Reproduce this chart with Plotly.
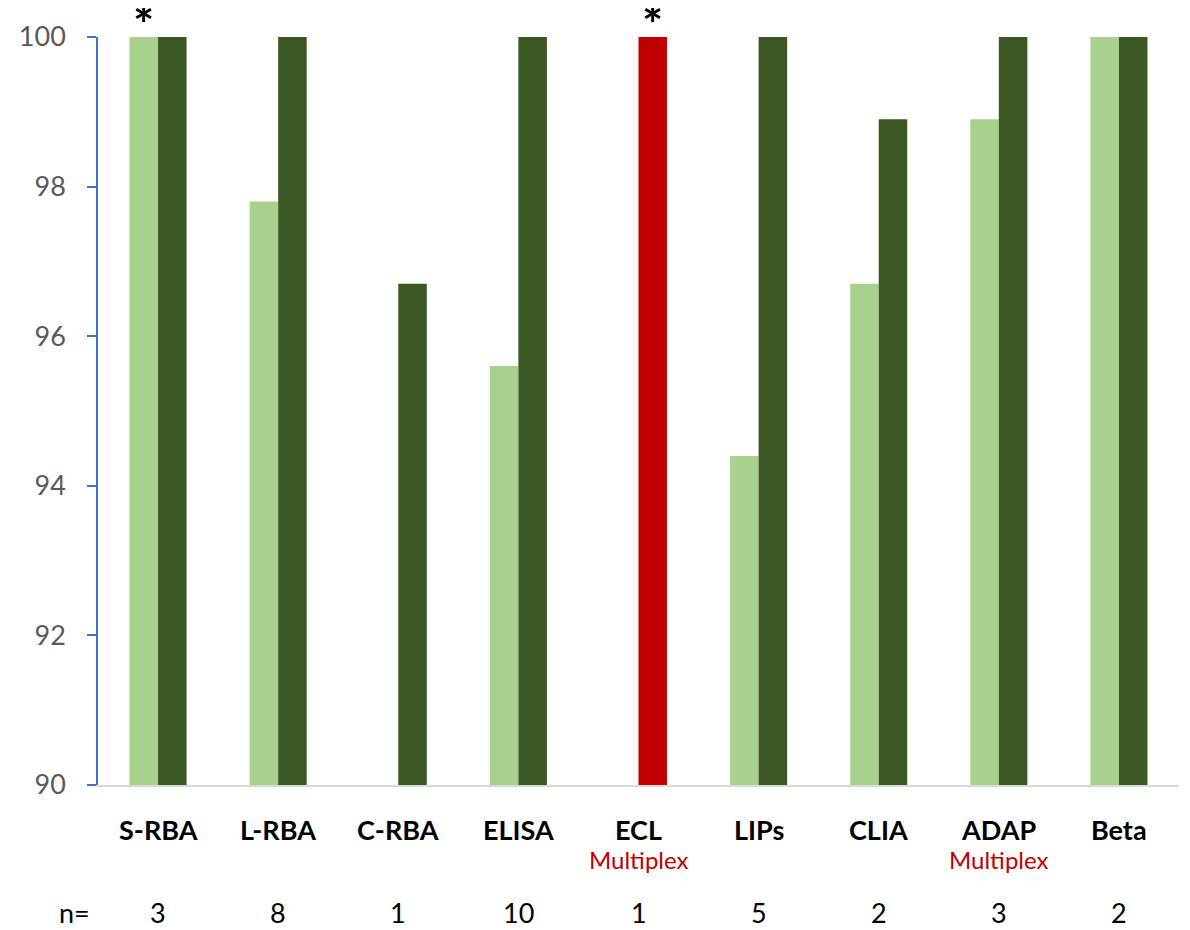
import plotly.graph_objects as go

categories = ["S-RBA", "L-RBA", "C-RBA", "ELISA", "ECL", "LIPs", "CLIA", "ADAP", "Beta"]
light_values = [100, 97.8, None, 95.6, None, 94.4, 96.7, 98.9, 100]
dark_values = [100, 100, 96.7, 100, 100, 100, 98.9, 100, 100]
multiplex = [False, False, False, False, True, False, False, True, False]
n_values = ["3", "8", "1", "10", "1", "5", "2", "3", "2"]
star_series = ["light", None, None, None, "dark", None, None, None, None]
highlight = [False, False, False, False, True, False, False, False, False]

LIGHT = "#A9D18E"
DARK = "#3B5724"
RED = "#C00000"
FONT = "Lato"

xs = list(range(len(categories)))
dark_colors = [RED if h else DARK for h in highlight]

fig = go.Figure()
fig.add_trace(go.Bar(x=xs, y=[None if v is None else v - 90 for v in light_values], base=90,
                     marker=dict(color=LIGHT, line=dict(width=0)), name="light"))
fig.add_trace(go.Bar(x=xs, y=[None if v is None else v - 90 for v in dark_values], base=90,
                     marker=dict(color=dark_colors, line=dict(width=0)), name="dark"))

bargap = 0.525
half = (1 - bargap) / 4

annotations = []
for i, cat in enumerate(categories):
    annotations.append(dict(x=i, y=0, xref="x", yref="paper", text="<b>" + cat + "</b>",
                            showarrow=False, yanchor="middle", yshift=-44,
                            font=dict(family=FONT, size=27, color="#000000")))
    if multiplex[i]:
        annotations.append(dict(x=i, y=0, xref="x", yref="paper", text="Multiplex",
                                showarrow=False, yanchor="middle", yshift=-74,
                                font=dict(family=FONT, size=24, color=RED)))
    annotations.append(dict(x=i, y=0, xref="x", yref="paper", text=n_values[i],
                            showarrow=False, yanchor="middle", yshift=-127,
                            font=dict(family=FONT, size=27, color="#000000")))
    if star_series[i]:
        sx = i - half if star_series[i] == "light" else i + half
        sv = light_values[i] if star_series[i] == "light" else dark_values[i]
        annotations.append(dict(x=sx, y=sv, xref="x", yref="y", text="<b>*</b>",
                                showarrow=False, yanchor="bottom", yshift=-19,
                                font=dict(family=FONT, size=50, color="#000000")))
annotations.append(dict(x=0, y=0, xref="paper", yref="paper", text="n=",
                        showarrow=False, yanchor="middle", xanchor="center", xshift=-24, yshift=-127,
                        font=dict(family=FONT, size=27, color="#000000")))

fig.update_layout(
    width=1182, height=922,
    margin=dict(l=88, r=11, t=24, b=145),
    paper_bgcolor="white", plot_bgcolor="white",
    barmode="group", bargap=bargap, bargroupgap=0,
    showlegend=False,
    annotations=annotations,
    xaxis=dict(range=[-0.5, len(categories) - 0.5], showticklabels=False, showgrid=False,
               zeroline=False, showline=True, linecolor="#D9D9D9", linewidth=2, ticks=""),
    yaxis=dict(range=[90, 100], tickvals=[90, 92, 94, 96, 98, 100], showgrid=False, zeroline=False,
               showline=True, linecolor="#4472C4", linewidth=1.5, ticks="outside", ticklen=9,
               tickcolor="#4472C4", tickwidth=1.5, ticklabelstandoff=16,
               tickfont=dict(family=FONT, size=27, color="#595959")),
)

fig.write_html("out.html")
